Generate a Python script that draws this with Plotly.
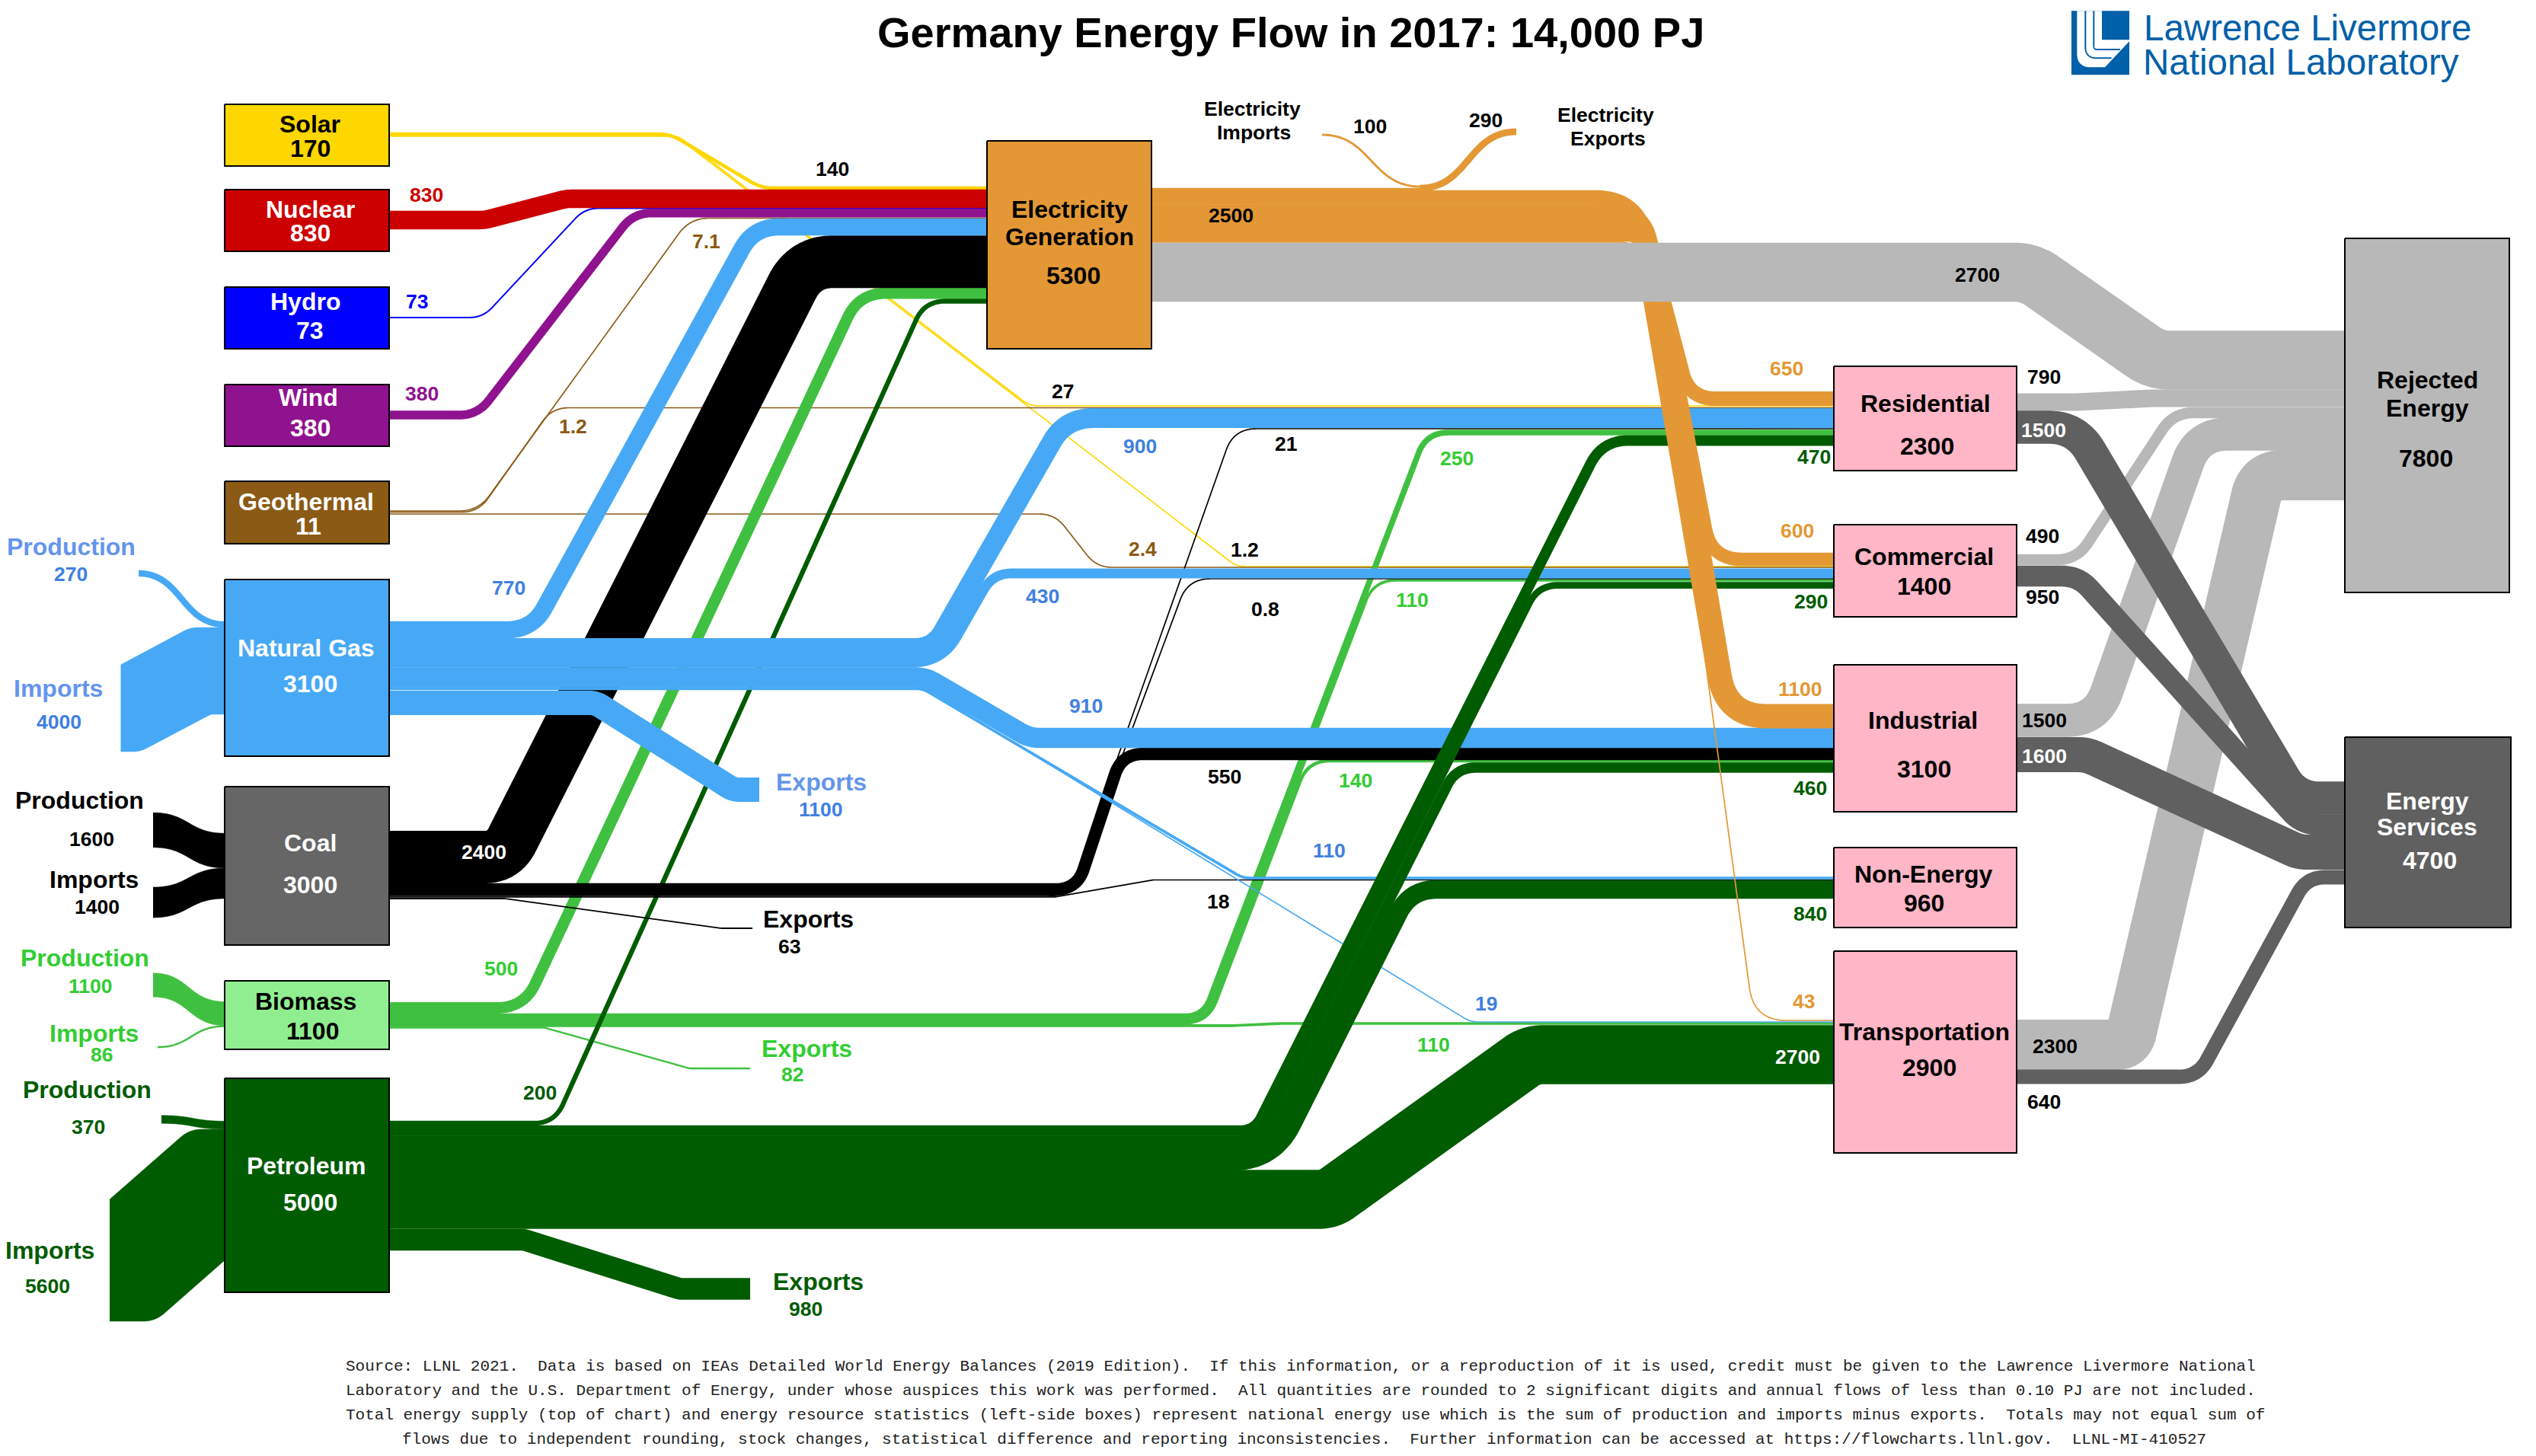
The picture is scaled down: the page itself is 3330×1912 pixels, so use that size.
import math
import plotly.graph_objects as go

# ---------- values (PJ) ----------
TITLE = "Germany Energy Flow in 2017: 14,000 PJ"
NODE_NAMES = ["Solar", "Nuclear", "Hydro", "Wind", "Geothermal", "Natural Gas", "Coal", "Biomass", "Petroleum",
              "Electricity Generation", "Residential", "Commercial", "Industrial", "Non-Energy", "Transportation",
              "Rejected Energy", "Energy Services"]
NODE_TOTALS = [170, 830, 73, 380, 11, 3100, 3000, 1100, 5000, 5300, 2300, 1400, 3100, 960, 2900, 7800, 4700]

FLOW_SOURCES = ["Solar", "Solar", "Solar", "Geothermal", "Geothermal", "Geothermal", "Hydro", "Wind", "Nuclear",
                "Biomass", "Biomass", "Biomass", "Biomass", "Biomass", "Biomass",
                "BiomassProd", "BiomassImp",
                "Petroleum",
                "Coal", "Coal", "Coal", "Coal", "Coal", "Coal", "CoalProd", "CoalImp",
                "Natural Gas", "Natural Gas", "Natural Gas", "Natural Gas", "Natural Gas", "Natural Gas", "Natural Gas",
                "GasProd", "GasImp",
                "Petroleum", "Petroleum", "Petroleum", "Petroleum", "Petroleum", "Petroleum",
                "PetrolProd", "PetrolImp",
                "Electricity Generation", "Electricity Generation", "Electricity Generation", "Electricity Generation",
                "Electricity Generation", "ElecImp", "Electricity Generation",
                "Residential", "Commercial", "Industrial", "Transportation", "Electricity Generation",
                "Residential", "Commercial", "Industrial", "Transportation"]
FLOW_TARGETS = ["Electricity Generation", "Residential", "Commercial", "Commercial", "Residential", "Electricity Generation",
                "Electricity Generation", "Electricity Generation", "Electricity Generation",
                "Electricity Generation", "Residential", "Commercial", "Industrial", "Transportation", "Exports",
                "Biomass", "Biomass",
                "Electricity Generation",
                "Electricity Generation", "Residential", "Commercial", "Non-Energy", "Exports", "Industrial", "Coal", "Coal",
                "Electricity Generation", "Residential", "Commercial", "Industrial", "Non-Energy", "Transportation", "Exports",
                "Natural Gas", "Natural Gas",
                "Residential", "Commercial", "Industrial", "Non-Energy", "Transportation", "Exports",
                "Petroleum", "Petroleum",
                "Transportation", "Industrial", "Commercial", "Residential",
                "Band", "Electricity Generation", "ElecExp",
                "Rejected Energy", "Rejected Energy", "Rejected Energy", "Rejected Energy", "Rejected Energy",
                "Energy Services", "Energy Services", "Energy Services", "Energy Services"]
FLOW_VALUES = [140, 27, 1.2, 2.4, 1.2, 7.1, 73, 380, 830,
               500, 250, 110, 140, 110, 82,
               1100, 86,
               200,
               2400, 21, 0.8, 18, 63, 550, 1600, 1400,
               770, 900, 430, 910, 110, 19, 1100,
               270, 4000,
               470, 290, 460, 840, 2700, 980,
               370, 5600,
               43, 1100, 600, 650,
               107, 100, 290,
               790, 490, 1500, 2300, 2700,
               1500, 950, 1600, 640]

FOOTER = [
    "Source: LLNL 2021.  Data is based on IEAs Detailed World Energy Balances (2019 Edition).  If this information, or a reproduction of it is used, credit must be given to the Lawrence Livermore National",
    "Laboratory and the U.S. Department of Energy, under whose auspices this work was performed.  All quantities are rounded to 2 significant digits and annual flows of less than 0.10 PJ are not included.",
    "Total energy supply (top of chart) and energy resource statistics (left-side boxes) represent national energy use which is the sum of production and imports minus exports.  Totals may not equal sum of",
    "flows due to independent rounding, stock changes, statistical difference and reporting inconsistencies.  Further information can be accessed at https://flowcharts.llnl.gov.  LLNL-MI-410527",
]

# ---------- styles ----------
PX_PER_PJ = 0.0285
MIN_W = 1.7
SEAM = 0.6
YEL, RED, BLU, PUR, BRN = "#FFD700", "#CC0000", "#0000FF", "#8F128F", "#8B5A14"
GAS, COL, BIO, OIL, ELE = "#47A9F5", "#000000", "#40C040", "#005C00", "#E39835"
REJ, SRV, PNK = "#B8B8B8", "#606060", "#FFB6C6"
GASL, GASV, BIOL = "#6495ED", "#4080E0", "#32CD32"

SRC_COLOR = {"Solar": YEL, "Nuclear": RED, "Hydro": BLU, "Wind": PUR, "Geothermal": BRN, "Natural Gas": GAS,
             "GasProd": GAS, "GasImp": GAS, "Coal": COL, "CoalProd": COL, "CoalImp": COL, "Biomass": BIO,
             "BiomassProd": BIO, "BiomassImp": BIO, "Petroleum": OIL, "PetrolProd": OIL, "PetrolImp": OIL,
             "Electricity Generation": ELE, "ElecImp": ELE}

# ---------- diagram routing (layout only), keyed by source/target ----------
S = "S"    # S-bend drawn as a stroke
SV = "SV"  # S-bend with constant vertical thickness
E = "E"    # band given by its upper and lower edge
ROUTES = {
    ("Solar", "Residential"): ([(511, 178), (890, 178), (1352, 533), (2408, 533)], 25),
    ("Solar", "Commercial"): ([(511, 179), (888, 179), (1624, 744), (2408, 744)], 25),
    ("Solar", "Electricity Generation"): ([(511, 176), (880, 176), (1000, 247), (1296, 247)], 40),
    ("Geothermal", "Commercial"): ([(511, 675), (1385, 675), (1440, 745), (2408, 745)], 30),
    ("Geothermal", "Residential"): ([(511, 672.5), (628, 672.5), (725, 535.5), (2408, 535.5)], 30),
    ("Geothermal", "Electricity Generation"): ([(511, 671), (628, 671), (906, 286.5), (1296, 286.5)], 35),
    ("Hydro", "Electricity Generation"): ([(511, 417), (634, 417), (768, 273.5), (1296, 273.5)], 30),
    ("Wind", "Electricity Generation"): ([(511, 545), (627, 545), (832, 279.7), (1296, 279.7)], 35),
    ("Nuclear", "Electricity Generation"): ([(511, 289), (636, 289), (744, 261), (1296, 261)], [35, 35]),
    ("Biomass", "Electricity Generation"): ([(511, 1323.5), (688, 1323.5), (1128, 385), (1296, 385)], 40),
    ("Biomass", "Residential"): ([(511, 1334.6), (1580, 1334.6), (1873, 568), (2408, 568)], [25, 30]),
    ("Biomass", "Commercial"): ([(511, 1339.7), (1583.6, 1339.7), (1804, 762), (2408, 762)], [28, 30]),
    ("Biomass", "Industrial"): ([(511, 1343.2), (1586, 1343.2), (1717.5, 999), (2408, 999)], [32, 30]),
    ("Biomass", "Transportation"): ([(511, 1346.8), (1620, 1346.8), (1680, 1344), (2408, 1344)], 30),
    ("Biomass", "Exports"): ([(511, 1349.5), (715, 1349.5), (905, 1403), (985, 1403)], 15),
    ("BiomassProd", "Biomass"): (SV, (201, 1293.5), (295, 1331)),
    ("BiomassImp", "Biomass"): (S, (207, 1375), (295, 1347.6)),
    ("Petroleum", "Electricity Generation"): ([(511, 1475), (728, 1475), (1214, 395.5), (1296, 395.5)], 30),
    ("Coal", "Electricity Generation"): ([(511, 1125.5), (661, 1125.5), (1057, 343.7), (1296, 343.7)], [29, 43]),
    ("Coal", "Residential"): ([(511, 1172), (1405, 1172), (1620, 563), (2408, 563)], 30),
    ("Coal", "Commercial"): ([(511, 1177), (1405, 1177), (1560, 760), (2408, 760)], 30),
    ("Coal", "Non-Energy"): ([(511, 1178), (1385, 1178), (1514, 1155.5), (2408, 1155.5)], 15),
    ("Coal", "Exports"): ([(511, 1180), (663, 1180), (947, 1219), (988, 1219)], 10),
    ("Coal", "Industrial"): ([(511, 1168), (1414, 1168), (1473, 990), (2408, 990)], 28),
    ("CoalProd", "Coal"): (SV, (201, 1090), (295, 1117)),
    ("CoalImp", "Coal"): (SV, (201, 1185), (295, 1160)),
    ("Natural Gas", "Electricity Generation"): ([(511, 827), (699, 827), (990, 298), (1296, 298)], 40),
    ("Natural Gas", "Residential"): ([(511, 851), (1226, 851), (1399, 549), (2408, 549)], [30, 45]),
    ("Natural Gas", "Commercial"): ([(511, 870), (1237, 870), (1304, 753), (2408, 753)], [48, 30]),
    ("Natural Gas", "Industrial"): ([(511, 889.5), (1215, 889.5), (1352, 969), (2408, 969)], 35),
    ("Natural Gas", "Non-Energy"): ([(511, 904), (1211, 904), (1632, 1153), (2408, 1153)], 25),
    ("Natural Gas", "Transportation"): ([(511, 905.5), (1217, 905.5), (1931, 1342), (2408, 1342)], 25),
    ("Natural Gas", "Exports"): ([(511, 923), (782, 923), (963, 1037), (997, 1037)], 20),
    ("GasProd", "Natural Gas"): (S, (182, 753), (295, 820)),
    ("GasImp", "Natural Gas"): (E, [(158.5, 873), (250, 824), (295, 824)], 30,
                                [(158.5, 987), (184, 987), (277, 938), (295, 938)], [25, 6]),
    ("Petroleum", "Residential"): ([(511, 1484.7), (1647.5, 1484.7), (2104, 578.4), (2408, 578.4)], [22, 40]),
    ("Petroleum", "Commercial"): ([(511, 1495.7), (1654, 1495.7), (2020, 768.6), (2408, 768.6)], [33, 30]),
    ("Petroleum", "Industrial"): ([(511, 1506.5), (1660.6, 1506.5), (1912, 1008), (2408, 1008)], [44, 30]),
    ("Petroleum", "Non-Energy"): ([(511, 1525), (1672, 1525), (1852, 1168), (2408, 1168)], [63, 40]),
    ("Petroleum", "Transportation"): ([(511, 1575), (1745, 1575), (2010, 1385), (2408, 1385)], [30, 35]),
    ("Petroleum", "Exports"): ([(511, 1628), (688, 1628), (893, 1692.6), (985, 1692.6)], 16),
    ("PetrolProd", "Petroleum"): (SV, (212, 1470), (295, 1477.5)),
    ("PetrolImp", "Petroleum"): (E, [(144, 1575), (249, 1483), (295, 1483)], 30,
                                 [(144, 1735), (204, 1735), (295, 1655)], 30),
    ("Electricity Generation", "Transportation"): ([(1512, 317.8), (2165, 317.8), (2303, 1340), (2420, 1340)], 35),
    ("Electricity Generation", "Industrial"): ([(1512, 301.4), (2158, 301.4), (2267, 940.5), (2408, 940.5)], [18, 45]),
    ("Electricity Generation", "Commercial"): ([(1512, 277.2), (2160, 277.2), (2247, 734.5), (2408, 734.5)], [35, 35]),
    ("Electricity Generation", "Residential"): ([(1512, 259.3), (2149, 259.3), (2218, 523.5), (2408, 523.5)], [50, 32]),
    ("Electricity Generation", "Band"): ([(1512, 248.5), (1870, 248.5)], 0),
    ("ElecImp", "Electricity Generation"): (S, (1736, 177), (1865, 245)),
    ("Electricity Generation", "ElecExp"): (S, (1865, 247), (1991, 173)),
    ("Residential", "Rejected Energy"): ([(2648, 528), (2726, 528), (2827, 523), (3079, 523)], 30),
    ("Commercial", "Rejected Energy"): ([(2648, 735), (2727, 735), (2854, 542), (3079, 542)], 35),
    ("Industrial", "Rejected Energy"): ([(2648, 946), (2753, 946), (2886, 570), (3079, 570)], 40),
    ("Transportation", "Rejected Energy"): ([(2648, 1372), (2795, 1372), (2969, 624), (3079, 624)], [15, 26]),
    ("Electricity Generation", "Rejected Energy"): ([(1512, 357.5), (2665, 357.5), (2830, 473), (3079, 473)], 45),
    ("Residential", "Energy Services"): ([(2648, 561), (2726, 561), (3015, 1048), (3079, 1048)], 45),
    ("Commercial", "Energy Services"): ([(2648, 756.5), (2729, 756.5), (3023, 1083), (3079, 1083)], 35),
    ("Industrial", "Energy Services"): ([(2648, 991), (2740, 991), (3019, 1119), (3079, 1119)], 35),
    ("Transportation", "Energy Services"): ([(2648, 1414), (2886, 1414), (3029, 1152), (3079, 1152)], 30),
}

BOXES = {  # x0, x1, y0, y1, fill
    "Solar": (295, 511, 137, 218, YEL), "Nuclear": (295, 511, 249, 330, RED), "Hydro": (295, 511, 377, 458, BLU),
    "Wind": (295, 511, 505, 586, PUR), "Geothermal": (295, 511, 632, 714, BRN), "Natural Gas": (295, 511, 761, 993, GAS),
    "Coal": (295, 511, 1033, 1241, "#666666"), "Biomass": (295, 511, 1288, 1378, "#90EE90"),
    "Petroleum": (295, 511, 1416, 1697, OIL), "Electricity Generation": (1296, 1512, 185, 458, ELE),
    "Residential": (2408, 2648, 481, 618, PNK), "Commercial": (2408, 2648, 689, 810, PNK),
    "Industrial": (2408, 2648, 873, 1066, PNK), "Non-Energy": (2408, 2648, 1113, 1218, PNK),
    "Transportation": (2408, 2648, 1249, 1514, PNK), "Rejected Energy": (3079, 3295, 313, 778, REJ),
    "Energy Services": (3079, 3297, 968, 1218, SRV),
}

BOX_LABELS = {  # lines with (x, y), then colour
    "Solar": ([(407, 164)], (407, 196), "black"),
    "Nuclear": ([(407, 276)], (407, 307), "white"),
    "Hydro": ([(401, 397)], (407, 435), "white"),
    "Wind": ([(405, 523)], (407, 563), "white"),
    "Geothermal": ([(402, 660)], (405, 692), "white"),
    "Natural Gas": ([(402, 852)], (407, 899), "white"),
    "Coal": ([(407, 1108)], (407, 1163), "white"),
    "Biomass": ([(401, 1316)], (410, 1355), "black"),
    "Petroleum": ([(402, 1532)], (407, 1580), "white"),
    "Electricity Generation": ([(1404, 276), (1404, 312)], (1409, 363), "black"),
    "Residential": ([(2528, 531)], (2530, 587), "black"),
    "Commercial": ([(2526, 732)], (2526, 771), "black"),
    "Industrial": ([(2525, 947)], (2526, 1011), "black"),
    "Non-Energy": ([(2526, 1149)], (2526, 1187), "black"),
    "Transportation": ([(2527, 1356)], (2533, 1403), "black"),
    "Rejected Energy": ([(3187, 500), (3187, 537)], (3185, 603), "black"),
    "Energy Services": ([(3187, 1053), (3187, 1087)], (3190, 1131), "white"),
}

SMALL_LABELS = [  # text, x, y, colour
    ("830", 560, 257, RED), ("73", 547, 397, BLU), ("380", 554, 518, PUR), ("7.1", 927, 318, BRN), ("1.2", 752, 561, BRN),
    ("140", 1093, 223, "black"), ("270", 93, 755, GASV), ("4000", 77, 949, GASV), ("770", 668, 773, GASV),
    ("1600", 120, 1103, "black"), ("1400", 127, 1192, "black"), ("2400", 635, 1120, "white"),
    ("1100", 119, 1296, BIOL), ("500", 658, 1273, BIOL), ("86", 133, 1386, BIOL),
    ("370", 116, 1481, OIL), ("200", 709, 1436, OIL), ("5600", 62, 1690, OIL),
    ("1100", 1078, 1064, GASV), ("63", 1036, 1244, "black"), ("82", 1040, 1412, BIOL), ("980", 1058, 1720, OIL),
    ("100", 1799, 167, "black"), ("290", 1951, 159, "black"), ("2500", 1616, 284, "black"), ("27", 1395, 515, "black"),
    ("900", 1497, 587, GASV), ("21", 1688, 584, "black"), ("250", 1913, 603, BIOL), ("2.4", 1500, 722, BRN), ("1.2", 1634, 723, "black"),
    ("430", 1369, 784, GASV), ("0.8", 1661, 801, "black"), ("110", 1854, 789, BIOL), ("910", 1426, 928, GASV),
    ("550", 1608, 1021, "black"), ("140", 1780, 1026, BIOL), ("110", 1745, 1118, GASV), ("18", 1599, 1185, "black"), ("19", 1951, 1319, GASV),
    ("110", 1882, 1373, BIOL), ("43", 2368, 1316, ELE), ("2700", 2360, 1389, "white"), ("2700", 2596, 362, "black"),
    ("650", 2346, 485, ELE), ("790", 2684, 496, "black"), ("1500", 2683, 566, "white"), ("470", 2382, 601, OIL),
    ("600", 2360, 698, ELE), ("490", 2682, 705, "black"), ("950", 2682, 785, "black"), ("290", 2378, 791, OIL),
    ("1100", 2364, 906, ELE), ("1500", 2684, 947, "black"), ("1600", 2684, 994, "white"), ("460", 2377, 1036, OIL),
    ("840", 2377, 1201, OIL), ("2300", 2698, 1375, "black"), ("640", 2684, 1448, "black"),
    ("Electricity", 1644, 144, "black"), ("Imports", 1646, 175, "black"), ("Electricity", 2108, 152, "black"), ("Exports", 2111, 183, "black"),
]
HEAD_LABELS = [  # Production / Imports / Exports captions
    ("Production", 93, 719, GASL), ("Imports", 76, 905, GASL), ("Exports", 1078, 1028, GASL),
    ("Production", 104, 1052, "black"), ("Imports", 123, 1156, "black"), ("Exports", 1061, 1208, "black"),
    ("Production", 111, 1259, BIOL), ("Imports", 123, 1358, BIOL), ("Exports", 1059, 1378, BIOL),
    ("Production", 114, 1432, OIL), ("Imports", 65, 1643, OIL), ("Exports", 1074, 1684, OIL),
]


# ---------- helpers ----------
def rounded(pts, r):
    rr = r if isinstance(r, (list, tuple)) else [r] * (len(pts) - 2)
    out = [pts[0]]
    for i in range(1, len(pts) - 1):
        p0, p1, p2 = pts[i - 1], pts[i], pts[i + 1]
        a = (p0[0] - p1[0], p0[1] - p1[1])
        b = (p2[0] - p1[0], p2[1] - p1[1])
        la, lb = math.hypot(*a), math.hypot(*b)
        ua, ub = (a[0] / la, a[1] / la), (b[0] / lb, b[1] / lb)
        cosv = max(-1, min(1, ua[0] * ub[0] + ua[1] * ub[1]))
        ang = math.acos(cosv)
        t = min(1.4 * rr[i - 1] / max(math.tan(ang / 2), 1e-6), 0.48 * la, 0.48 * lb)
        s = (p1[0] + ua[0] * t, p1[1] + ua[1] * t)
        e = (p1[0] + ub[0] * t, p1[1] + ub[1] * t)
        for k in range(33):
            u = k / 32
            out.append(((1 - u) ** 2 * s[0] + 2 * u * (1 - u) * p1[0] + u * u * e[0],
                        (1 - u) ** 2 * s[1] + 2 * u * (1 - u) * p1[1] + u * u * e[1]))
    out.append(pts[-1])
    return out


def scurve(a, b):
    xm = (a[0] + b[0]) / 2
    out = [(a[0] - 0.01, a[1])]
    for k in range(61):
        u = k / 60
        c0, c1, c2, c3 = (1 - u) ** 3, 3 * u * (1 - u) ** 2, 3 * u * u * (1 - u), u ** 3
        out.append((c0 * a[0] + c1 * xm + c2 * xm + c3 * b[0], c0 * a[1] + c1 * a[1] + c2 * b[1] + c3 * b[1]))
    out.append((b[0] + 0.01, b[1]))
    return out


def color_for(src, tgt):
    if src in ("Residential", "Commercial", "Industrial", "Transportation"):
        return REJ if tgt == "Rejected Energy" else SRV
    if tgt == "Rejected Energy":
        return REJ
    return SRC_COLOR[src]


fig = go.Figure()


def add_polygon(pts, color):
    fig.add_trace(go.Scatter(x=[p[0] for p in pts], y=[p[1] for p in pts], mode="lines", fill="toself",
                             fillcolor=color, hoverinfo="skip", line=dict(color=color, width=0.5, simplify=False)))


def add_flow(src, tgt, val):
    route = ROUTES[(src, tgt)]
    color = color_for(src, tgt)
    width = max(MIN_W, val * PX_PER_PJ)
    if route[0] == E:
        add_polygon(rounded(route[1], route[2]) + rounded(route[3], route[4])[::-1], color)
        return
    if route[0] == SV:
        c = scurve(route[1], route[2])
        add_polygon([(x, y - width / 2) for x, y in c] + [(x, y + width / 2) for x, y in c[::-1]], color)
        return
    pts = scurve(route[1], route[2]) if route[0] == S else rounded(route[0], route[1])
    if width > 3:
        width += SEAM
    fig.add_trace(go.Scatter(x=[p[0] for p in pts], y=[p[1] for p in pts], mode="lines", hoverinfo="skip",
                             line=dict(color=color, width=width, simplify=False)))


for s, t, v in zip(FLOW_SOURCES, FLOW_TARGETS, FLOW_VALUES):
    add_flow(s, t, v)

for name, (x0, x1, y0, y1, fill) in BOXES.items():
    fig.add_trace(go.Scatter(x=[x0, x1, x1, x0, x0], y=[y0, y0, y1, y1, y0], mode="lines", fill="toself",
                             fillcolor=fill, hoverinfo="skip", line=dict(color="black", width=2)))

# logo mark
LB = "#0060A9"
def logo(ix, iy):
    return 2710 + ix / 3, 5 + iy / 3
def logo_poly(pts, fill=None, w=0, col=None):
    pp = [logo(*p) for p in pts]
    fig.add_trace(go.Scatter(x=[p[0] for p in pp], y=[p[1] for p in pp], mode="lines", hoverinfo="skip",
                             fill="toself" if fill else None, fillcolor=fill,
                             line=dict(color=col or "rgba(0,0,0,0)", width=w, simplify=False)))
logo_poly([(30, 28), (258, 28), (258, 280), (30, 280), (30, 28)], fill=LB)
logo_poly(rounded([(52, 28), (52, 250), (165, 250)], 45)[:-1] + [(162, 250), (258, 148), (258, 142), (150, 142), (150, 28), (52, 28)], fill="white")
logo_poly(rounded([(85, 28), (85, 214), (188, 214)], 32), w=2, col=LB)
logo_poly(rounded([(118, 28), (118, 180), (222, 180)], 10), w=2, col=LB)


def txt(s, x, y, size, color, font="Liberation Sans", bold=True):
    s = s.replace("  ", "\u00a0\u00a0")
    fig.add_annotation(x=x, y=y - 1, text=f"<b>{s}</b>" if bold else s, showarrow=False, xanchor="center", yanchor="middle",
                       font=dict(family=font, size=size, color=color), xref="x", yref="y")


def short_names(name):
    return name.split(" ") if name in ("Electricity Generation", "Rejected Energy", "Energy Services") else [name]


for name, total in zip(NODE_NAMES, NODE_TOTALS):
    lines, val_pos, colr = BOX_LABELS[name]
    for word, pos in zip(short_names(name), lines):
        txt(word, pos[0], pos[1], 32, colr)
    txt(str(total), val_pos[0], val_pos[1], 32, colr)

for s, x, y, c in SMALL_LABELS:
    txt(s, x, y, 26.5, c)
for s, x, y, c in HEAD_LABELS:
    txt(s, x, y, 32, c)

txt(TITLE, 1695, 43.5, 56, "black")
txt("Lawrence Livermore", 3030, 37, 47.5, LB, bold=False)
txt("National Laboratory", 3021, 82, 47.5, LB, bold=False)
for line, y, x in zip(FOOTER, [1795, 1827, 1859, 1891], [1708, 1708, 1714, 1712]):
    txt(line, x, y, 21, "#222222", font="Liberation Mono", bold=False)

fig.update_layout(
    width=3330, height=1912, autosize=False, showlegend=False, plot_bgcolor="white", paper_bgcolor="white",
    margin=dict(l=0, r=0, t=0, b=0),
    xaxis=dict(range=[0, 3330], visible=False, fixedrange=True),
    yaxis=dict(range=[1912, 0], visible=False, fixedrange=True),
)
fig.write_html("out.html", config={"displayModeBar": False},
               post_script="document.body.style.margin='0';document.documentElement.style.overflow='hidden';")
